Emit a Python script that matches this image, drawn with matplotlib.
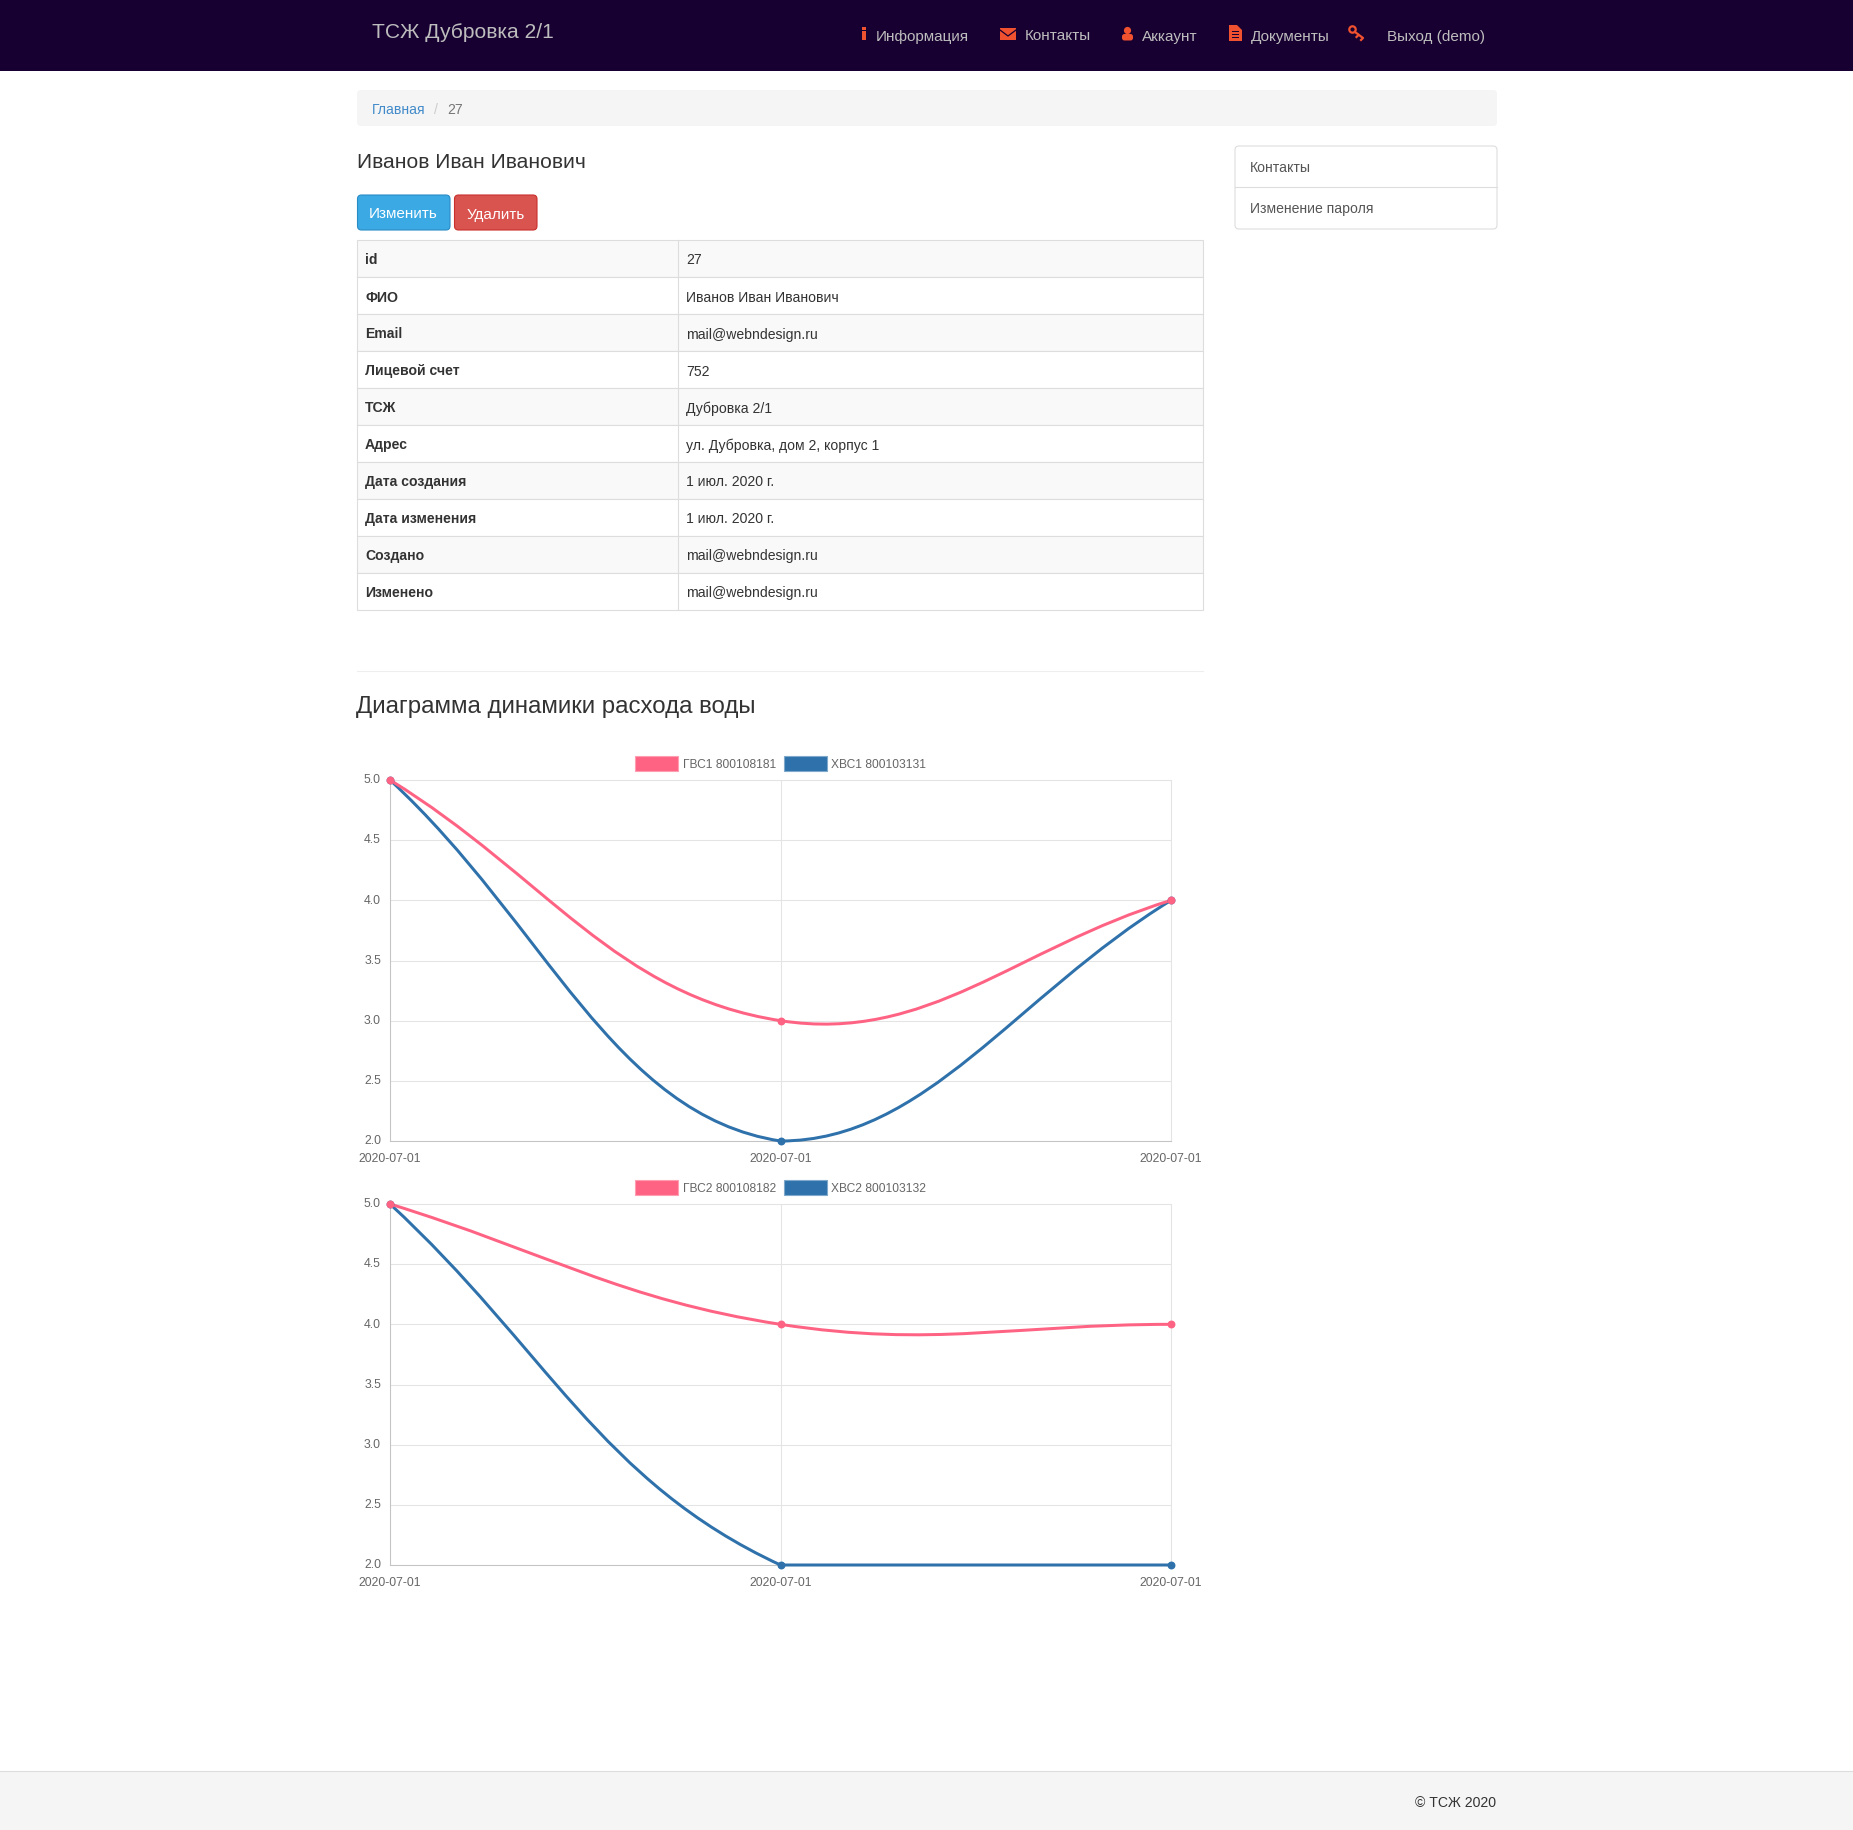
import matplotlib
matplotlib.use("Agg")
import matplotlib.pyplot as plt
import numpy as np
from matplotlib.patches import Rectangle, FancyBboxPatch, Polygon, Circle, PathPatch
from matplotlib.path import Path
from matplotlib.transforms import ScaledTranslation

plt.rcParams['font.family'] = ['Liberation Sans', 'DejaVu Sans']

W, H = 1853, 1831

nav_items = ["Информация", "Контакты", "Аккаунт", "Документы"]
nav_x = [876, 1025, 1142, 1251]
table_labels = ["id", "ФИО", "Email", "Лицевой счет", "ТСЖ", "Адрес", "Дата создания",
                "Дата изменения", "Создано", "Изменено"]
table_values = ["27", "Иванов Иван Иванович", "mail@webndesign.ru", "752", "Дубровка 2/1",
                "ул. Дубровка, дом 2, корпус 1", "1 июл. 2020 г.", "1 июл. 2020 г.",
                "mail@webndesign.ru", "mail@webndesign.ru"]

dates = ["2020-07-01", "2020-07-01", "2020-07-01"]
y_ticks = [2.0, 2.5, 3.0, 3.5, 4.0, 4.5, 5.0]
gvs1 = [5, 3, 4]
hvs1 = [5, 2, 4]
gvs2 = [5, 4, 4]
hvs2 = [5, 2, 2]
legend1 = ["ГВС1 800108181", "ХВС1 800103131"]
legend2 = ["ГВС2 800108182", "ХВС2 800103132"]

PINK = "#ff6384"
BLUE = "#2e71ab"
ICON = "#f0512f"
NAV = "#170031"


def px(size):
    return size * 0.72


fig = plt.figure(figsize=(W / 100, H / 100), dpi=100, facecolor="white")
page = fig.add_axes([0, 0, 1, 1])
page.set_xlim(0, W)
page.set_ylim(H - 1, -1)
page.axis("off")


def rect(x0, y0, x1, y1, fc, ec="none", lw=1, z=1):
    page.add_patch(Rectangle((x0, y0), x1 - x0, y1 - y0, fc=fc, ec=ec, lw=lw, zorder=z))


def round_rect(x0, y0, x1, y1, fc, ec="none", r=4, z=1):
    page.add_patch(FancyBboxPatch((x0 + r, y0 + r), x1 - x0 - 2 * r, y1 - y0 - 2 * r,
                                  boxstyle=f"round,pad={r},rounding_size={r}",
                                  fc=fc, ec=ec, lw=0.8, zorder=z))


def text(x, y, s, size=14, color="#333333", **kw):
    kw.setdefault("va", "center_baseline")
    page.text(x, y - 1, s, fontsize=px(size), color=color, zorder=5, **kw)


# navbar
rect(0, -1, W, 71, NAV)
text(372, 30, "ТСЖ Дубровка 2/1", 21, "#bdbdbd")
for x, label in zip(nav_x, nav_items):
    text(x, 35, label, 15.2, "#bdbdbd")
text(1387, 35, "Выход (demo)", 15.2, "#bdbdbd")

# nav icons
rect(861.5, 31, 866, 40, ICON, z=3)
rect(861.5, 27, 866, 30, ICON, z=3)
rect(1000, 28, 1016, 40, ICON, z=3)
page.plot([1000, 1008, 1016], [30, 36, 30], color=NAV, lw=0.9, zorder=4)
page.add_patch(Circle((1127.5, 30.5), 3.6, fc=ICON, ec="none", zorder=3))
round_rect(1122, 34, 1133, 40.5, ICON, r=2.5, z=3)
page.add_patch(Polygon([(1229, 25), (1237, 25), (1242, 30), (1242, 41), (1229, 41)], closed=True, fc=ICON, ec="none", zorder=3))
for yy in (31, 34, 37):
    rect(1231.5, yy, 1239, yy + 1, NAV, z=4)
page.add_patch(Circle((1352.5, 29.5), 3.2, fc="none", ec=ICON, lw=1.6, zorder=3))
page.plot([1355, 1363, 1361], [32, 38, 40], color=ICON, lw=1.6, zorder=3)
page.plot([1358.5, 1356.5], [35, 37], color=ICON, lw=1.6, zorder=3)

# breadcrumb
round_rect(357, 90, 1497, 126, "#f5f5f5")
text(372, 108, "Главная", 14, "#428bca")
text(434, 108, "/", 14, "#cccccc")
text(447, 108, "27", 14, "#777777")

# heading and buttons
text(357, 160, "Иванов Иван Иванович", 21, "#333333")
round_rect(357.5, 195, 450, 230, "#3aa9e4", "#2a8cc4")
round_rect(454.5, 195, 537, 230, "#d9534f", "#c9302c")
text(403.5, 213, "Изменить", 15.2, "white", ha="center")
text(495.5, 213, "Удалить", 15.2, "white", ha="center")

# side menu
round_rect(1235, 146, 1497, 229, "white", "#dddddd")
page.plot([1235, 1497], [187, 187], color="#dddddd", lw=0.8, zorder=2)
text(1250, 167, "Контакты", 14, "#555555")
text(1250, 208, "Изменение пароля", 14, "#555555")

# info table
ROW = 37
for i, (label, value) in enumerate(zip(table_labels, table_values)):
    y0 = 240 + i * ROW
    rect(357, y0, 1203, y0 + ROW, "#f9f9f9" if i % 2 == 0 else "white", "#dddddd", 0.8)
    text(365, y0 + 19, label, 14, "#333333", fontweight="bold")
    text(686.5, y0 + 19, value, 14, "#333333")
page.plot([678, 678], [240, 610], color="#dddddd", lw=0.8, zorder=2)

page.plot([357, 1203], [671, 671], color="#eeeeee", lw=0.8)
text(356.5, 705, "Диаграмма динамики расхода воды", 24, "#333333")

# footer
rect(0, 1771, W, H, "#f5f5f5")
page.plot([0, W], [1771, 1771], color="#dddddd", lw=0.8, zorder=2)
text(1496, 1802, "© ТСЖ 2020", 14, "#333333", ha="right")


def spline_path(ax, values):
    # chart.js style bezier, tension 0.4, control points capped to the plot area
    pts = ax.transData.transform(list(enumerate(values)))
    inv = ax.transData.inverted()
    box = ax.get_window_extent()
    t = 0.4
    verts = [pts[0]]
    for i in range(len(pts) - 1):
        p0, p1, p2, p3 = pts[max(i - 1, 0)], pts[i], pts[i + 1], pts[min(i + 2, len(pts) - 1)]
        d01 = ((p1 - p0) ** 2).sum() ** 0.5
        d12 = ((p2 - p1) ** 2).sum() ** 0.5
        d23 = ((p3 - p2) ** 2).sum() ** 0.5
        c1 = p1 + t * d12 / (d01 + d12) * (p2 - p0)
        c2 = p2 - t * d12 / (d12 + d23) * (p3 - p1)
        verts += [c1, c2, p2]
    verts = np.array(verts)
    verts[:, 0] = verts[:, 0].clip(box.x0, box.x1)
    verts[:, 1] = verts[:, 1].clip(box.y0, box.y1)
    codes = [Path.MOVETO] + [Path.CURVE4] * (len(verts) - 1)
    return Path(inv.transform(verts), codes)


def draw_chart(top, pink, blue, labels):
    left, right, bottom = 390, 1171, top + 361
    ax = fig.add_axes([left / W, 1 - (bottom + 1) / H, (right - left) / W, (bottom - top) / H])
    ax.patch.set_alpha(0)
    ax.set_xlim(0, 2)
    ax.set_ylim(2, 5)
    ax.set_yticks(y_ticks)
    ax.set_yticklabels([f"{v:.1f}" for v in y_ticks])
    ax.set_xticks(range(3))
    ax.set_xticklabels(dates)
    ax.tick_params(length=0, labelsize=px(12.2), labelcolor="#666666")
    ax.tick_params(axis="y", pad=6.5)
    ax.tick_params(axis="x", pad=8)
    # y labels sit a little above their grid line in the reference
    lift = ScaledTranslation(0, 2.2 / 100, fig.dpi_scale_trans)
    for label in ax.get_yticklabels():
        label.set_transform(label.get_transform() + lift)
    ax.grid(True, color="#e4e4e4", lw=0.75)
    ax.set_axisbelow(True)
    for side in ("top", "right"):
        ax.spines[side].set_color("#e4e4e4")
    for side in ("left", "bottom"):
        ax.spines[side].set_color("#c4c4c4")
    for side in ax.spines:
        ax.spines[side].set_linewidth(0.75)
    fig.canvas.draw()
    for values, color in ((blue, BLUE), (pink, PINK)):
        ax.add_patch(PathPatch(spline_path(ax, values), fc="none", ec=color, lw=px(3), clip_on=False, zorder=3))
        ax.plot(range(3), values, ls="none", marker="o", ms=px(6.5), color=color, clip_on=False, zorder=4)
    # legend row above the plot
    for x0, tx, label, color, edge in ((635, 683, labels[0], PINK, "#ff9db2"), (784, 831, labels[1], BLUE, "#7fa8cb")):
        rect(x0, top - 24, x0 + 43, top - 9, color, edge, 0.8)
        text(tx, top - 16, label, 12, "#666666")


draw_chart(780, gvs1, hvs1, legend1)
draw_chart(1204, gvs2, hvs2, legend2)

fig.savefig("out.png", dpi=100)
